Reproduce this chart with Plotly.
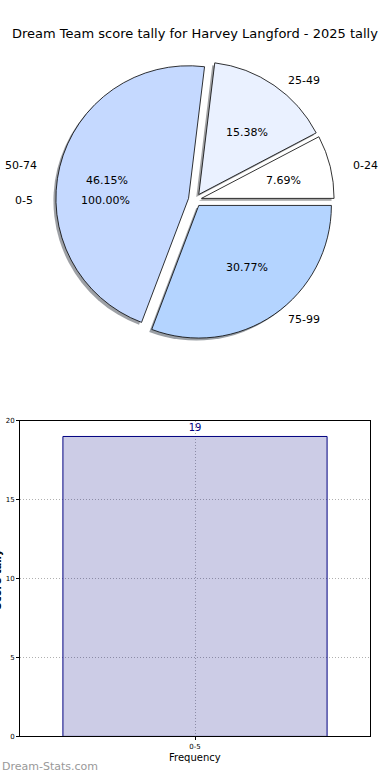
import math
import plotly.graph_objects as go

# ---- data ----
pie_labels = ["0-24", "25-49", "50-74", "75-99"]
pie_values = [1, 2, 6, 4]
pie_colors = ["#ffffff", "#eaf1ff", "#c5d9ff", "#b4d4ff"]
ghost_labels = ["0-5"]
ghost_values = [19]
bar_categories = ["0-5"]
bar_values = [19]
y_ticks = [0, 5, 10, 15, 20]
title = "Dream Team score tally for Harvey Langford - 2025 tally"

W, H = 390, 780
PULL = 0.05
CX, CY = 195, 198       # pie centre (page px)
R = 134                 # pie radius (px)
TRX, TRY = 140, 128     # text placement radii (px)


def px(x):
    return x / W


def py(y):
    return 1 - y / H


def shade(hexcol):
    h = hexcol.lstrip("#")
    r, g, b = (int(h[i:i + 2], 16) for i in (0, 2, 4))
    r, g, b = (0.3 * c for c in (r, g, b))
    return f"rgba({r:.0f},{g:.0f},{b:.0f},0.5)"


total = sum(pie_values)
# first slice starts at 3 o'clock and runs counter-clockwise
rot = 90 - 360 * pie_values[0] / total

fig = go.Figure()

half = R * (1 + PULL)
# shadow
sx, sy = -2.5, 2.5
fig.add_trace(go.Pie(
    labels=pie_labels, values=pie_values, sort=False, direction="counterclockwise",
    rotation=rot, pull=[PULL] * len(pie_values), textinfo="none", hoverinfo="skip",
    marker=dict(colors=[shade(c) for c in pie_colors], line=dict(width=0)),
    domain=dict(x=[px(CX + sx - half), px(CX + sx + half)],
                y=[py(CY + sy + half), py(CY + sy - half)]),
    showlegend=False,
))
# main pie
fig.add_trace(go.Pie(
    labels=pie_labels, values=pie_values, sort=False, direction="counterclockwise",
    rotation=rot, pull=[PULL] * len(pie_values), textinfo="none", hoverinfo="label+percent",
    marker=dict(colors=pie_colors, line=dict(color="#000000", width=0.8)),
    domain=dict(x=[px(CX - half), px(CX + half)], y=[py(CY + half), py(CY - half)]),
    showlegend=False,
))

annotations = []
font_pie = dict(family="DejaVu Sans", size=11, color="#000000")
cum = 0
for lab, v in zip(pie_labels, pie_values):
    th = math.radians(360 * (cum + v / 2) / total)
    cum += v
    c, s = math.cos(th), math.sin(th)
    lx = CX + (PULL + 1.1) * TRX * c
    ly = CY - (PULL + 1.1) * TRY * s
    annotations.append(dict(x=px(lx), y=py(ly), xref="paper", yref="paper", text=lab,
                            showarrow=False, font=font_pie,
                            xanchor="left" if c > 0 else "right", yanchor="middle"))
    tx = CX + (PULL + 0.6) * TRX * c
    ty = CY - (PULL + 0.6) * TRY * s
    annotations.append(dict(x=px(tx), y=py(ty), xref="paper", yref="paper",
                            text=f"{100 * v / total:.2f}%", showarrow=False, font=font_pie,
                            xanchor="center", yanchor="middle"))

# ghost single-slice pie texts (its only wedge is centred at 180 degrees)
GCX = 189
gtot = sum(ghost_values)
for lab, v in zip(ghost_labels, ghost_values):
    c = math.cos(math.radians(180))
    annotations.append(dict(x=px(GCX + 1.1 * TRX * c), y=py(CY + 1), xref="paper", yref="paper",
                            text=lab, showarrow=False, font=font_pie,
                            xanchor="right", yanchor="middle"))
    annotations.append(dict(x=px(GCX + 0.6 * TRX * c), y=py(CY + 1), xref="paper", yref="paper",
                            text=f"{100 * v / gtot:.2f}%", showarrow=False, font=font_pie,
                            xanchor="center", yanchor="middle"))

# title
annotations.append(dict(x=px(195), y=py(30), xref="paper", yref="paper", text=title,
                        showarrow=False, font=dict(family="DejaVu Sans", size=13, color="#000000"),
                        xanchor="center", yanchor="middle"))

# ---- bar chart ----
fig.add_trace(go.Bar(
    x=bar_categories, y=bar_values, width=0.8,
    marker=dict(color="rgba(0,0,128,0.2)", line=dict(color="#000080", width=1)),
    text=[str(v) for v in bar_values], textposition="outside",
    textfont=dict(family="DejaVu Sans", size=10, color="#000080"),
    cliponaxis=False, showlegend=False, xaxis="x", yaxis="y",
))

annotations.append(dict(x=px(5), y=py(581), xref="paper", yref="paper", text="<b>Score tally</b>",
                        textangle=-90, showarrow=False,
                        font=dict(family="DejaVu Sans", size=10, color="#000000"),
                        xanchor="right", yanchor="middle"))
annotations.append(dict(x=px(195), y=py(761), xref="paper", yref="paper", text="Frequency",
                        showarrow=False, font=dict(family="DejaVu Sans", size=10, color="#000000"),
                        xanchor="center", yanchor="middle"))
annotations.append(dict(x=px(0), y=py(770), xref="paper", yref="paper", text="Dream-Stats.com",
                        showarrow=False, font=dict(family="DejaVu Sans", size=11, color="#999999"),
                        xanchor="left", yanchor="middle"))

grid = dict(showgrid=True, gridcolor="#b0b0b0", griddash="1px,2px", gridwidth=1)
fig.update_layout(
    width=W, height=H, autosize=False,
    margin=dict(l=0, r=0, t=0, b=0),
    paper_bgcolor="#ffffff", plot_bgcolor="#ffffff",
    annotations=annotations,
    xaxis=dict(domain=[px(20), px(370)], range=[-0.53, 0.53], type="category",
               showline=True, linecolor="#000000", linewidth=1, mirror=True,
               ticks="outside", ticklen=3, tickcolor="#000000",
               tickfont=dict(family="DejaVu Sans", size=7, color="#000000"),
               anchor="y", zeroline=False, fixedrange=True, layer="above traces", **grid),
    yaxis=dict(domain=[py(740), py(421)], range=[0, 20], tickvals=y_ticks,
               showline=True, linecolor="#000000", linewidth=1, mirror=True,
               ticks="outside", ticklen=3, tickcolor="#000000",
               tickfont=dict(family="DejaVu Sans", size=7, color="#000000"),
               anchor="x", zeroline=False, fixedrange=True, layer="above traces", **grid),
)

fig.write_html("out.html", config={"displayModeBar": False},
               post_script="document.body.style.margin='0px';")
